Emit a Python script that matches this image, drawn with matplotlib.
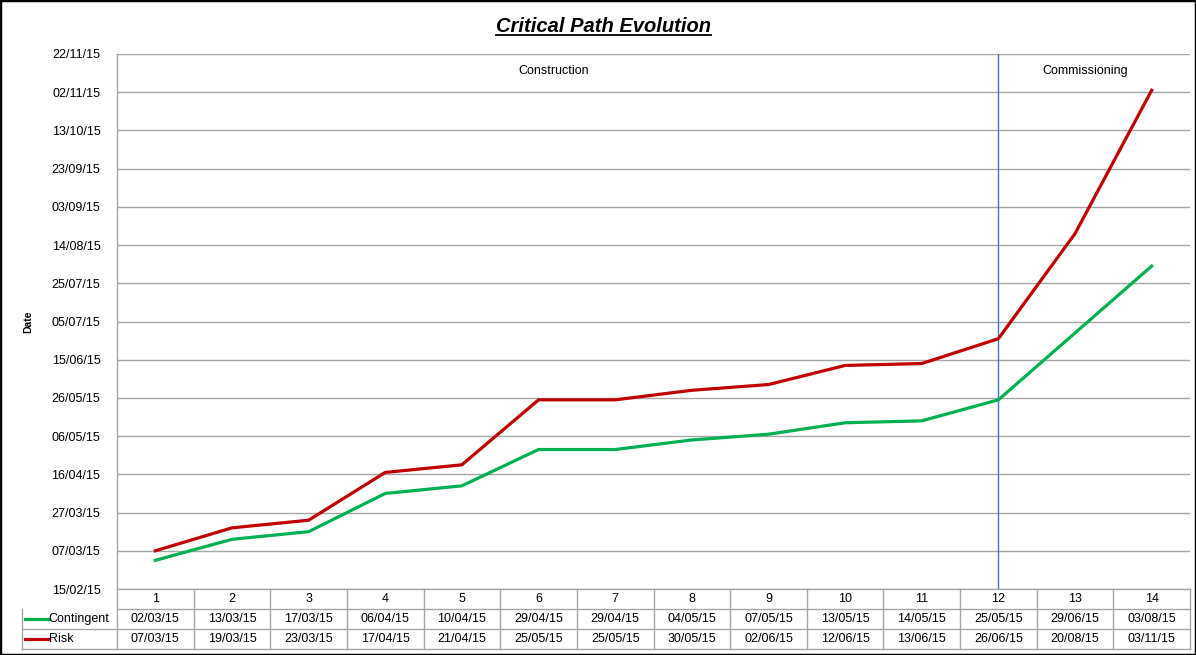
import matplotlib
matplotlib.use('Agg')
import matplotlib.pyplot as plt
import matplotlib.dates as mdates
import matplotlib.transforms as mtransforms
from matplotlib.patches import Rectangle
from datetime import datetime, timedelta

plt.rcParams['font.family'] = ['Liberation Sans', 'DejaVu Sans']

# data
steps = [str(i) for i in range(1, 15)]
contingent = ['02/03/15', '13/03/15', '17/03/15', '06/04/15', '10/04/15', '29/04/15', '29/04/15',
              '04/05/15', '07/05/15', '13/05/15', '14/05/15', '25/05/15', '29/06/15', '03/08/15']
risk = ['07/03/15', '19/03/15', '23/03/15', '17/04/15', '21/04/15', '25/05/15', '25/05/15',
        '30/05/15', '02/06/15', '12/06/15', '13/06/15', '26/06/15', '20/08/15', '03/11/15']
series_names = ['Contingent', 'Risk']
phase_labels = ['Construction', 'Commissioning']
phase_split = 12   # step where commissioning starts

tick_start = datetime(2015, 2, 15)
tick_step_days = 20
n_ticks = 15

green = '#00b050'
red = '#c00000'
grid_col = '#a6a6a6'

W, H = 1196, 655
fig = plt.figure(figsize=(W / 100, H / 100), dpi=100)
ax = fig.add_axes([117 / W, (H - 589) / H, (1190 - 117) / W, (589 - 54) / H])


def to_num(s):
    return mdates.date2num(datetime.strptime(s, '%d/%m/%y'))


xs = [i + 0.5 for i in range(len(steps))]
ax.plot(xs, [to_num(d) for d in contingent], color=green, lw=2.3, zorder=3)
ax.plot(xs, [to_num(d) for d in risk], color=red, lw=2.3, zorder=3)

yt = [mdates.date2num(tick_start + timedelta(days=tick_step_days * k)) for k in range(n_ticks)]
ax.set_ylim(yt[0], yt[-1])
ax.set_yticks(yt)
ax.yaxis.set_major_formatter(mdates.DateFormatter('%d/%m/%y'))
ax.tick_params(axis='y', length=0, pad=12, labelsize=9)
ax.set_xlim(0, len(steps))
ax.set_xticks([])
ax.grid(axis='y', color=grid_col, lw=1, zorder=0)

for s in ['top', 'right']:
    ax.spines[s].set_visible(False)
for s in ['left', 'bottom']:
    ax.spines[s].set_color(grid_col)
    ax.spines[s].set_linewidth(1)

tr = mtransforms.blended_transform_factory(ax.transData, ax.transAxes)

# phase separator and labels
ax.axvline(phase_split - 0.5, color='#4472c4', lw=1, zorder=2)
ax.text((phase_split - 1) / 2 + 0.2, 0.968, phase_labels[0], transform=tr,
        ha='center', va='center', fontsize=9)
ax.text((phase_split - 1 + len(steps)) / 2 + 0.13, 0.968, phase_labels[1], transform=tr,
        ha='center', va='center', fontsize=9)

# data table under the chart
rh = 20 / 535
left = -(117 - 22) / ((1190 - 117) / len(steps))
n = len(steps)
lk = dict(color=grid_col, lw=1, transform=tr, clip_on=False)
ax.plot([0, n], [-rh, -rh], **lk)
ax.plot([left, n], [-2 * rh, -2 * rh], **lk)
ax.plot([left, n], [-3 * rh, -3 * rh], **lk)
ax.plot([left, left], [-rh, -3 * rh], **lk)
for i in range(n + 1):
    ax.plot([i, i], [0, -3 * rh], **lk)
for i in range(n):
    ax.text(i + 0.5, -0.5 * rh, steps[i], transform=tr, ha='center', va='center', fontsize=9)
    ax.text(i + 0.5, -1.5 * rh, contingent[i], transform=tr, ha='center', va='center', fontsize=9)
    ax.text(i + 0.5, -2.5 * rh, risk[i], transform=tr, ha='center', va='center', fontsize=9)
for r, (name, col) in enumerate(zip(series_names, [green, red])):
    yy = -(1.5 + r) * rh
    ax.plot([left + 0.04, left + 0.35], [yy, yy], color=col, lw=2.3, transform=tr, clip_on=False)
    ax.text(left + 0.35, yy, name, transform=tr, ha='left', va='center', fontsize=9)

# axis title
fig.text(28 / W, (H - 322) / H, 'Date', rotation=90, ha='center', va='center',
         fontsize=7.5, fontweight='bold')

# title with underline
title = fig.text(603 / W, (H - 26) / H, 'Critical Path Evolution', ha='center', va='center',
                 fontsize=14.5, fontweight='bold', fontstyle='italic')
fig.canvas.draw()
bb = title.get_window_extent().transformed(fig.transFigure.inverted())
fig.add_artist(plt.Line2D([bb.x0, bb.x1], [bb.y0 + 0.001, bb.y0 + 0.001], color='black', lw=1.3,
                          transform=fig.transFigure))

# outer border
fig.add_artist(Rectangle((0, 0), 1, 1, transform=fig.transFigure, fill=False,
                         edgecolor='black', lw=2.5))

fig.savefig('out.png', dpi=100)
